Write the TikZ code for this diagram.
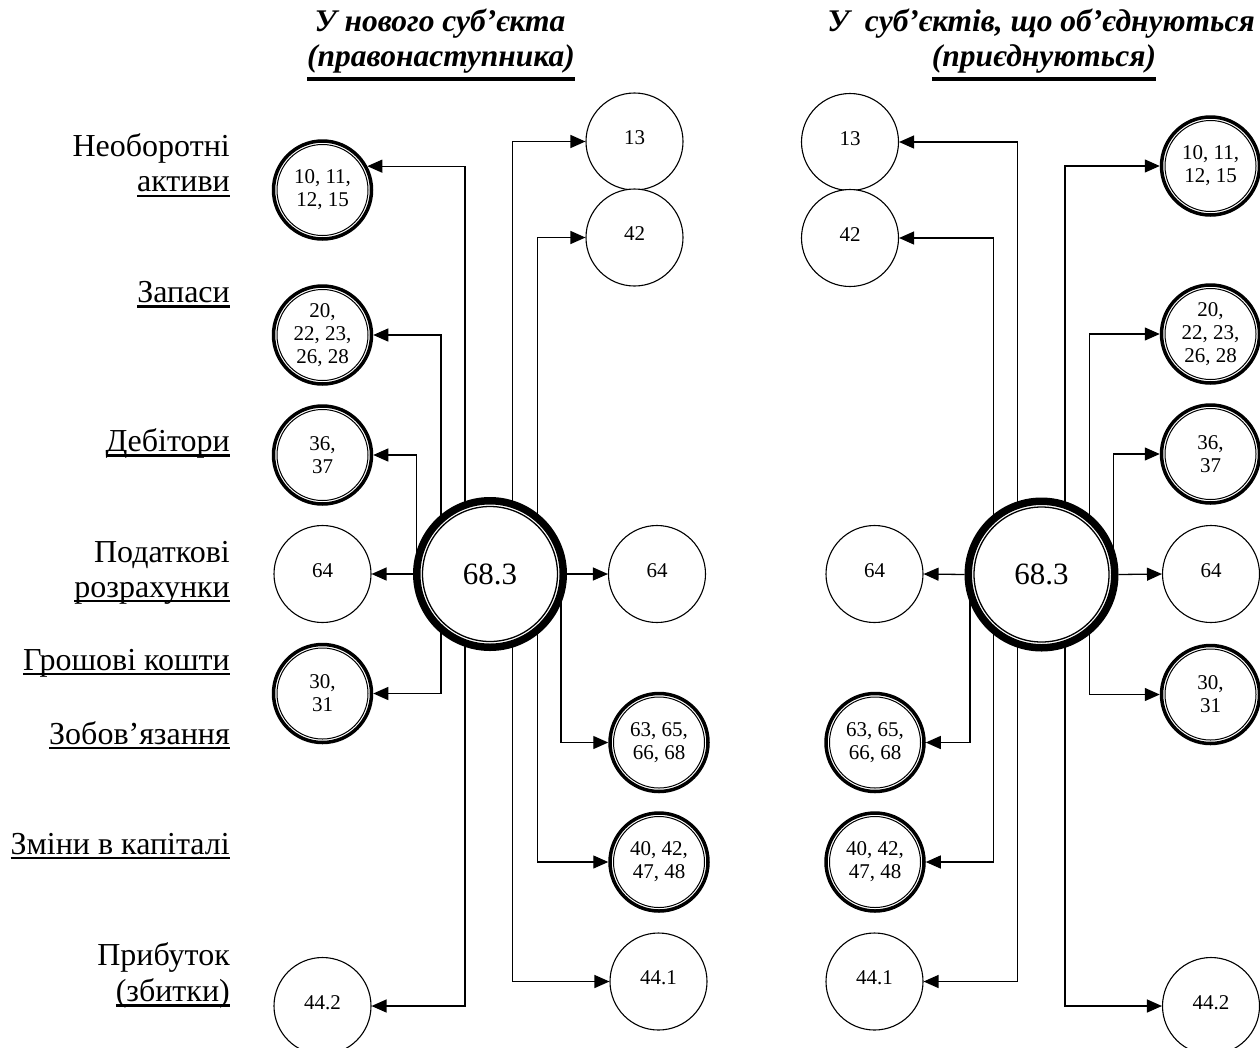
\documentclass[tikz,border=0pt]{standalone}
\usepackage{fontspec}
\setmainfont{Liberation Serif}
\usetikzlibrary{arrows.meta}
\pgfdeclarelayer{bg}
\pgfsetlayers{bg,main}
\newsavebox\ulbox
\newcommand\myul[3]{\sbox\ulbox{#3}\rlap{\rule[-#1]{\wd\ulbox}{#2}}\usebox\ulbox}
\newcommand\lul[1]{\myul{5pt}{2.2pt}{#1}}
\newcommand\tul[1]{\myul{14pt}{3.4pt}{#1}}
\begin{document}
\begin{tikzpicture}[x=1pt,y=-1pt,
  sgl/.style={circle, draw, line width=1.1pt, minimum size=97pt, inner sep=0pt,
    fill=white, align=center, text depth=7pt, font=\fontsize{21}{23}\selectfont},
  dbl/.style={circle, draw, line width=3.5pt, minimum size=98pt, inner sep=0pt,
    fill=white, align=center, font=\fontsize{21}{23}\selectfont,
    path picture={\draw[line width=1pt] (path picture bounding box.center) circle[radius=45.5pt];}},
  big/.style={circle, draw, line width=7.5pt, minimum size=146.5pt, inner sep=0pt,
    fill=white, font=\fontsize{31}{35}\selectfont,
    path picture={\draw[line width=1.3pt] (path picture bounding box.center) circle[radius=67.5pt];}},
  lab/.style={anchor=base east, inner sep=0pt, font=\fontsize{32}{35}\selectfont},
  ttl/.style={anchor=base, inner sep=0pt, font=\fontsize{31.5}{35}\selectfont\bfseries\itshape},
  arr/.style={line width=1.3pt, -{Triangle[length=15pt,width=13pt]}}
]
\useasboundingbox (0,0) rectangle (1260,1047);

% titles
\node[ttl] (t1a) at (440,31.7) {У нового суб’єкта};
\node[ttl] (t1b) at (441,66.7) {\tul{(правонаступника)}};
\node[ttl] (t2a) at (1041,31.7) {У\ \ суб’єктів, що об’єднуються};
\node[ttl] (t2b) at (1044,66.7) {\tul{(приєднуються)}};

% left labels
\node[lab] (l1a) at (230,156.5) {Необоротні};
\node[lab] (l1b) at (230,191.7) {\lul{активи}};
\node[lab] (l2) at (230,302.5) {\lul{Запаси}};
\node[lab] (l3) at (230,451.5) {\lul{Дебітори}};
\node[lab] (l4a) at (230,562) {Податкові};
\node[lab] (l4b) at (230,597) {\lul{розрахунки}};
\node[lab] (l5) at (230,670) {\lul{Грошові кошти}};
\node[lab] (l6) at (230,744) {\lul{Зобов’язання}};
\node[lab] (l7) at (230,854) {\lul{Зміни в капіталі}};
\node[lab] (l8a) at (230,965) {Прибуток};
\node[lab] (l8b) at (230,1001.5) {\lul{(збитки)}};

% left diagram
\node[big] (C1) at (490,574) {68.3};
\node[dbl] (L1) at (322.5,190) {10, 11,\\12, 15};
\node[dbl] (L2) at (322.5,335) {20,\\22, 23,\\26, 28};
\node[dbl] (L3) at (322.5,455) {36,\\37};
\node[sgl] (L4) at (322.5,574) {64};
\node[dbl] (L5) at (322.5,693.5) {30,\\31};
\node[sgl] (L6) at (322.5,1006) {44.2};
\node[sgl] (A13) at (634.5,141.5) {13};
\node[sgl] (A42) at (634.5,237.5) {42};
\node[sgl] (A64) at (657,574) {64};
\node[dbl] (A63) at (659,742.5) {63, 65,\\66, 68};
\node[dbl] (A40) at (659,862) {40, 42,\\47, 48};
\node[sgl] (A44) at (658.5,981.5) {44.1};

% right diagram
\node[big] (C2) at (1041.5,574.5) {68.3};
\node[sgl] (B13) at (850,142) {13};
\node[sgl] (B42) at (850,238) {42};
\node[sgl] (B64) at (874.5,574) {64};
\node[dbl] (B63) at (875,742.5) {63, 65,\\66, 68};
\node[dbl] (B40) at (875,862) {40, 42,\\47, 48};
\node[sgl] (B44) at (874.5,981.5) {44.1};
\node[dbl] (D10) at (1210.5,166) {10, 11,\\12, 15};
\node[dbl] (D20) at (1210.5,334) {20,\\22, 23,\\26, 28};
\node[dbl] (D36) at (1210.5,454) {36,\\37};
\node[sgl] (D64) at (1211,574) {64};
\node[dbl] (D30) at (1210.5,694.5) {30,\\31};
\node[sgl] (D44) at (1211,1006) {44.2};

\begin{pgfonlayer}{bg}
  % left diagram connectors
  \draw[arr] ([xshift=-25pt]C1.center) |- (L1.28);
  \draw[arr] ([xshift=-25pt]C1.center) |- (L6.east);
  \draw[arr] ([xshift=-49pt]C1.center) |- (L2.east);
  \draw[arr] ([xshift=-49pt]C1.center) |- (L5.east);
  \draw[arr] ([xshift=-73.3pt]C1.center) |- (L3.east);
  \draw[arr] (C1.west) -- (L4.east);
  \draw[arr] ([xshift=22.3pt]C1.center) |- (A13.west);
  \draw[arr] ([xshift=22.5pt]C1.center) |- (A44.west);
  \draw[arr] ([xshift=47.3pt]C1.center) |- (A42.west);
  \draw[arr] ([xshift=47.5pt]C1.center) |- (A40.west);
  \draw[arr] ([xshift=71pt]C1.center) |- (A63.west);
  \draw[arr] (C1.east) -- (A64.west);
  % right diagram connectors
  \draw[arr] ([xshift=-23.8pt]C2.center) |- (B13.east);
  \draw[arr] ([xshift=-23.8pt]C2.center) |- (B44.east);
  \draw[arr] ([xshift=-48.2pt]C2.center) |- (B42.east);
  \draw[arr] ([xshift=-48.2pt]C2.center) |- (B40.east);
  \draw[arr] ([xshift=-71.5pt]C2.center) |- (B63.east);
  \draw[arr] (C2.west) -- (B64.east);
  \draw[arr] ([xshift=23.5pt]C2.center) |- (D10.west);
  \draw[arr] ([xshift=23.5pt]C2.center) |- (D44.west);
  \draw[arr] ([xshift=47.8pt]C2.center) |- (D20.west);
  \draw[arr] ([xshift=47.8pt]C2.center) |- (D30.west);
  \draw[arr] ([xshift=71.8pt]C2.center) |- (D36.west);
  \draw[arr] (C2.east) -- (D64.west);
\end{pgfonlayer}
\end{tikzpicture}
\end{document}
